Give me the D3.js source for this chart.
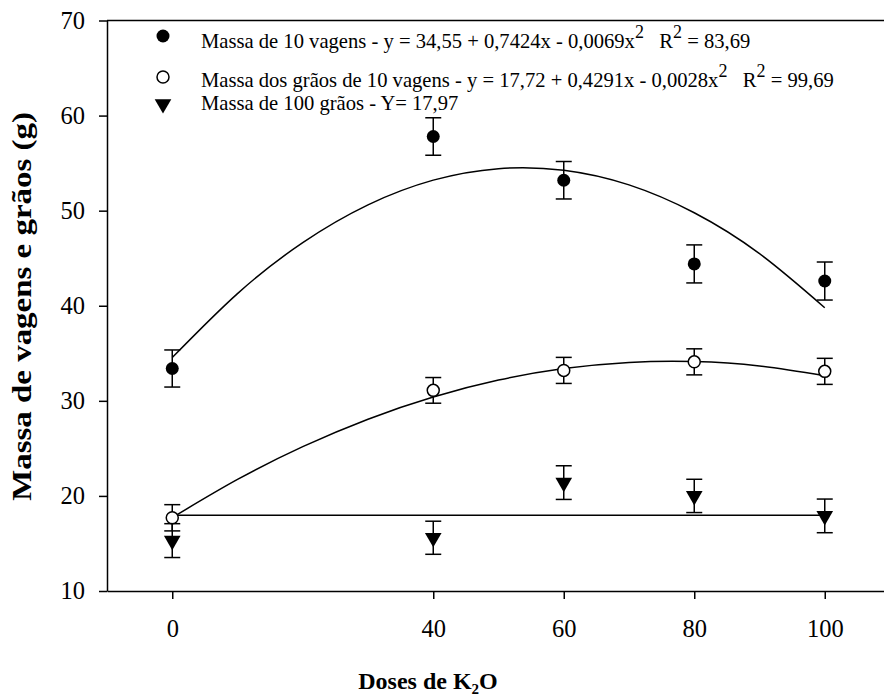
<!DOCTYPE html>
<html><head><meta charset="utf-8">
<script src="https://cdn.jsdelivr.net/npm/d3@7"></script>
<style>body{margin:0;background:#fff} svg text{font-family:"Liberation Serif","DejaVu Serif",serif !important;fill:#000}</style>
</head><body>
<svg id="c" width="884" height="698"></svg>
<script>
// ---- data ----
const doses = [0, 40, 60, 80, 100];
const massaVagens = [33.4, 57.8, 53.2, 44.4, 42.6];
const massaVagensErr = [1.95, 1.97, 1.97, 2.0, 2.0];
const massaGraos = [17.7, 31.1, 33.2, 34.1, 33.1];
const massaGraosErr = [1.38, 1.35, 1.37, 1.37, 1.37];
const massa100 = [15.3, 15.6, 21.4, 20.0, 17.9];
const massa100Err = [1.78, 1.74, 1.77, 1.75, 1.77];
const fitX = [0, 10, 20, 30, 40, 50, 60, 70, 80, 90, 100];
const fitVagens = [34.55, 41.28, 46.64, 50.61, 53.21, 54.42, 54.25, 52.71, 49.78, 45.48, 39.79];
const fitGraos = [17.72, 21.73, 25.18, 28.07, 30.40, 32.18, 33.39, 34.04, 34.13, 33.66, 32.63];
const fit100X = [0, 100];
const fit100 = [17.97, 17.97];
const xTicks = [0, 40, 60, 80, 100];
const yTicks = [10, 20, 30, 40, 50, 60, 70];
const legendRows = [
  [["Massa de 10 vagens - y = 34,55 + 0,7424x - 0,0069x", 0], ["2", 1], ["   R", 0], ["2", 1], [" = 83,69", 0]],
  [["Massa dos grãos de 10 vagens - y = 17,72 + 0,4291x - 0,0028x", 0], ["2", 1], ["   R", 0], ["2", 1], [" = 99,69", 0]],
  [["Massa de 100 grãos - Y= 17,97", 0]]
];
const xTitle = ["Doses de K", "2", "O"];
const yTitle = "Massa de vagens e grãos (g)";

// ---- layout ----
const svg = d3.select("#c");
const pL = 107, pR = 890, pT = 20.5, pB = 591;
const x = d3.scaleLinear().domain([-10, 110]).range([pL, pR]);
const y = d3.scaleLinear().domain([10, 70]).range([pB, pT]);

svg.append("line").attr("x1", pL).attr("x2", pR).attr("y1", pT).attr("y2", pT)
  .attr("stroke", "#000").attr("stroke-width", 1.5);

const yAxis = svg.append("g").attr("transform", `translate(${pL},0)`)
  .call(d3.axisLeft(y).tickValues(yTicks).tickSize(8).tickSizeOuter(0).tickPadding(14));
const xAxis = svg.append("g").attr("transform", `translate(0,${pB})`)
  .call(d3.axisBottom(x).tickValues(xTicks).tickSize(8).tickSizeOuter(0).tickPadding(21));
[yAxis, xAxis].forEach(a => {
  a.attr("font-family", null);
  a.select(".domain").attr("stroke", "#000").attr("stroke-width", 1.5);
  a.selectAll(".tick line").attr("stroke", "#000").attr("stroke-width", 1.5);
  a.selectAll(".tick text").attr("font-size", 24.5).attr("fill", "#000");
});

const line = d3.line().x(d => x(d[0])).y(d => y(d[1])).curve(d3.curveNatural);
const g = svg.append("g").attr("fill", "none").attr("stroke", "#000").attr("stroke-width", 1.5);
g.append("path").attr("d", line(fitX.map((v, i) => [v, fitVagens[i]])));
g.append("path").attr("d", line(fitX.map((v, i) => [v, fitGraos[i]])));
g.append("path").attr("d", line(fit100X.map((v, i) => [v, fit100[i]])));

const capW = 8;
function series(vals, errs, sym) {
  const gg = svg.append("g");
  doses.forEach((d, i) => {
    const cx = x(d), lo = y(vals[i] - errs[i]), hi = y(vals[i] + errs[i]);
    const eb = gg.append("g").attr("stroke", "#000").attr("stroke-width", 1.5);
    eb.append("line").attr("x1", cx).attr("x2", cx).attr("y1", lo).attr("y2", hi);
    eb.append("line").attr("x1", cx - capW).attr("x2", cx + capW).attr("y1", lo).attr("y2", lo);
    eb.append("line").attr("x1", cx - capW).attr("x2", cx + capW).attr("y1", hi).attr("y2", hi);
    sym(gg, cx, y(vals[i]));
  });
}
const filled = (gg, cx, cy) => gg.append("circle").attr("cx", cx).attr("cy", cy).attr("r", 6.5).attr("fill", "#000");
const open = (gg, cx, cy) => gg.append("circle").attr("cx", cx).attr("cy", cy).attr("r", 6).attr("fill", "#fff").attr("stroke", "#000").attr("stroke-width", 1.5);
const tri = (gg, cx, cy) => gg.append("path").attr("d", d3.symbol(d3.symbolTriangle, 120)())
  .attr("transform", `translate(${cx},${cy}) rotate(180)`).attr("fill", "#000");
series(massaVagens, massaVagensErr, filled);
series(massaGraos, massaGraosErr, open);
series(massa100, massa100Err, tri);

const legY = [48, 87, 110];
const symY = [36, 77, 104];
const syms = [filled, open, tri];
legendRows.forEach((row, r) => {
  syms[r](svg, 163, symY[r]);
  const t = svg.append("text").attr("transform", `translate(201,${legY[r]})`)
    .attr("font-size", 20.6).style("white-space", "pre");
  row.forEach(([s, sup]) => {
    const ts = t.append("tspan").text(s);
    if (sup) ts.attr("baseline-shift", "super").attr("font-size", 18);
  });
});

const xt = svg.append("text").attr("text-anchor", "middle")
  .attr("transform", `translate(428,689)`)
  .attr("font-size", 24).attr("font-weight", "bold");
xt.append("tspan").text(xTitle[0]);
xt.append("tspan").text(xTitle[1]).attr("font-size", 15).attr("dy", 5);
xt.append("tspan").text(xTitle[2]).attr("dy", -5);

svg.append("text").attr("text-anchor", "middle")
  .attr("transform", `translate(31,306.5) rotate(-90) scale(1.22,1)`)
  .attr("font-size", 27).attr("font-weight", "bold").text(yTitle);
</script>
</body></html>
